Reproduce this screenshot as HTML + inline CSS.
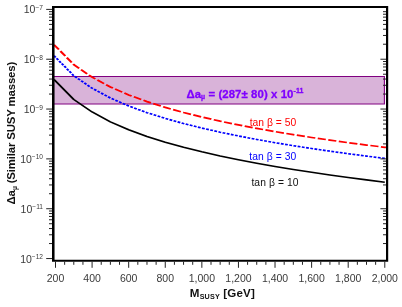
<!DOCTYPE html><html><head><meta charset="utf-8"><style>html,body{margin:0;padding:0;background:#fff}svg{display:block;will-change:transform}text{font-family:"Liberation Sans",sans-serif}</style></head><body>
<svg width="402" height="307" viewBox="0 0 402 307">
<rect width="402" height="307" fill="#fff"/>
<rect x="54" y="76.45" width="330.80" height="27.50" fill="#d9b3d9"/>
<path d="M54,76.45H384.4V103.95H54" fill="none" stroke="#800080" stroke-width="1.1"/>
<g transform="scale(1.32,1)">
<path d="M40.909,79.48 L42.045,81.00 L55.905,99.50 L69.764,111.99 L83.623,121.82 L97.482,129.76 L111.341,136.45 L125.200,142.22 L139.059,147.31 L152.918,151.86 L166.777,155.98 L180.636,159.75 L194.495,163.23 L208.355,166.45 L222.214,169.46 L236.073,172.29 L249.932,174.96 L263.791,177.48 L277.650,179.87 L291.509,182.14" fill="none" stroke="#000" stroke-width="1.55" stroke-linejoin="round"/>
<path d="M40.909,55.71 L42.045,57.23 L55.905,75.73 L69.764,88.22 L83.623,98.04 L97.482,105.99 L111.341,112.67 L125.200,118.44 L139.059,123.53 L152.918,128.08 L166.777,132.21 L180.636,135.97 L194.495,139.45 L208.355,142.68 L222.214,145.69 L236.073,148.52 L249.932,151.18 L263.791,153.70 L277.650,156.09 L291.509,158.37" fill="none" stroke="#0000ff" stroke-width="1.65" stroke-dasharray="2.15 1.1"/>
<path d="M40.909,44.65 L42.045,46.17 L55.905,64.67 L69.764,77.16 L83.623,86.99 L97.482,94.93 L111.341,101.62 L125.200,107.39 L139.059,112.48 L152.918,117.03 L166.777,121.15 L180.636,124.92 L194.495,128.40 L208.355,131.62 L222.214,134.64 L236.073,137.46 L249.932,140.13 L263.791,142.65 L277.650,145.04 L291.509,147.31 L292.424,147.46" fill="none" stroke="#ff0000" stroke-width="1.7" stroke-dasharray="6.2 1.9"/>
</g>
<path d="M46.2,9.40H52.6 M49,44.23H52.6 M383,44.23H386.2 M49,35.46H52.6 M383,35.46H386.2 M49,29.23H52.6 M383,29.23H386.2 M49,24.40H52.6 M383,24.40H386.2 M49,20.45H52.6 M383,20.45H386.2 M49,17.12H52.6 M383,17.12H386.2 M49,14.23H52.6 M383,14.23H386.2 M49,11.68H52.6 M383,11.68H386.2 M46.2,59.23H52.6 M380.4,59.23H386.2 M49,94.06H52.6 M383,94.06H386.2 M49,85.29H52.6 M383,85.29H386.2 M49,79.06H52.6 M383,79.06H386.2 M49,74.23H52.6 M383,74.23H386.2 M49,70.28H52.6 M383,70.28H386.2 M49,66.95H52.6 M383,66.95H386.2 M49,64.06H52.6 M383,64.06H386.2 M49,61.51H52.6 M383,61.51H386.2 M46.2,109.06H52.6 M380.4,109.06H386.2 M49,143.89H52.6 M383,143.89H386.2 M49,135.12H52.6 M383,135.12H386.2 M49,128.89H52.6 M383,128.89H386.2 M49,124.06H52.6 M383,124.06H386.2 M49,120.11H52.6 M383,120.11H386.2 M49,116.78H52.6 M383,116.78H386.2 M49,113.89H52.6 M383,113.89H386.2 M49,111.34H52.6 M383,111.34H386.2 M46.2,158.89H52.6 M380.4,158.89H386.2 M49,193.72H52.6 M383,193.72H386.2 M49,184.95H52.6 M383,184.95H386.2 M49,178.72H52.6 M383,178.72H386.2 M49,173.89H52.6 M383,173.89H386.2 M49,169.94H52.6 M383,169.94H386.2 M49,166.61H52.6 M383,166.61H386.2 M49,163.72H52.6 M383,163.72H386.2 M49,161.17H52.6 M383,161.17H386.2 M46.2,208.72H52.6 M380.4,208.72H386.2 M49,243.55H52.6 M383,243.55H386.2 M49,234.78H52.6 M383,234.78H386.2 M49,228.55H52.6 M383,228.55H386.2 M49,223.72H52.6 M383,223.72H386.2 M49,219.77H52.6 M383,219.77H386.2 M49,216.44H52.6 M383,216.44H386.2 M49,213.55H52.6 M383,213.55H386.2 M49,211.00H52.6 M383,211.00H386.2 M46.2,258.55H52.6 M55.50,261.8V267.8 M64.65,261.8V264.8 M73.79,261.8V264.8 M82.94,261.8V264.8 M92.09,261.8V267.8 M101.23,261.8V264.8 M110.38,261.8V264.8 M119.53,261.8V264.8 M128.68,261.8V267.8 M137.82,261.8V264.8 M146.97,261.8V264.8 M156.12,261.8V264.8 M165.26,261.8V267.8 M174.41,261.8V264.8 M183.56,261.8V264.8 M192.71,261.8V264.8 M201.85,261.8V267.8 M211.00,261.8V264.8 M220.15,261.8V264.8 M229.29,261.8V264.8 M238.44,261.8V267.8 M247.59,261.8V264.8 M256.73,261.8V264.8 M265.88,261.8V264.8 M275.03,261.8V267.8 M284.18,261.8V264.8 M293.32,261.8V264.8 M302.47,261.8V264.8 M311.62,261.8V267.8 M320.76,261.8V264.8 M329.91,261.8V264.8 M339.06,261.8V264.8 M348.20,261.8V267.8 M357.35,261.8V264.8 M366.50,261.8V264.8 M375.64,261.8V264.8 M384.79,261.8V267.8" fill="none" stroke="#222" stroke-width="1"/>
<path d="M52,6H388.2V261.75H52Z M54.55,8V259.75H386V8Z" fill="#000" fill-rule="evenodd"/>
<text x="43" y="13.40" text-anchor="end" font-size="10.5" fill="#3a3a3a">10<tspan font-size="6.6" dy="-3.5">−7</tspan></text>
<text x="43" y="63.23" text-anchor="end" font-size="10.5" fill="#3a3a3a">10<tspan font-size="6.6" dy="-3.5">−8</tspan></text>
<text x="43" y="113.06" text-anchor="end" font-size="10.5" fill="#3a3a3a">10<tspan font-size="6.6" dy="-3.5">−9</tspan></text>
<text x="43" y="162.89" text-anchor="end" font-size="10.5" fill="#3a3a3a">10<tspan font-size="6.6" dy="-3.5">−10</tspan></text>
<text x="43" y="212.72" text-anchor="end" font-size="10.5" fill="#3a3a3a">10<tspan font-size="6.6" dy="-3.5">−11</tspan></text>
<text x="43" y="262.55" text-anchor="end" font-size="10.5" fill="#3a3a3a">10<tspan font-size="6.6" dy="-3.5">−12</tspan></text>
<text x="55.50" y="282" text-anchor="middle" font-size="10.5" fill="#3a3a3a">200</text>
<text x="92.09" y="282" text-anchor="middle" font-size="10.5" fill="#3a3a3a">400</text>
<text x="128.68" y="282" text-anchor="middle" font-size="10.5" fill="#3a3a3a">600</text>
<text x="165.26" y="282" text-anchor="middle" font-size="10.5" fill="#3a3a3a">800</text>
<text x="201.85" y="282" text-anchor="middle" font-size="10.5" fill="#3a3a3a">1,000</text>
<text x="238.44" y="282" text-anchor="middle" font-size="10.5" fill="#3a3a3a">1,200</text>
<text x="275.03" y="282" text-anchor="middle" font-size="10.5" fill="#3a3a3a">1,400</text>
<text x="311.62" y="282" text-anchor="middle" font-size="10.5" fill="#3a3a3a">1,600</text>
<text x="348.20" y="282" text-anchor="middle" font-size="10.5" fill="#3a3a3a">1,800</text>
<text x="384.79" y="282" text-anchor="middle" font-size="10.5" fill="#3a3a3a">2,000</text>
<text x="189.8" y="297" font-size="11.6" font-weight="bold" fill="#111" textLength="65">M<tspan font-size="7.2" dy="1.6">SUSY</tspan><tspan dy="-1.6"> [GeV]</tspan></text>
<text transform="translate(15.3,204.6) rotate(-90)" font-size="11.4" font-weight="bold" fill="#111">Δa<tspan font-size="6.4" dy="1.4">μ</tspan></text>
<text transform="translate(15.3,183.3) rotate(-90)" font-size="11.4" font-weight="bold" fill="#111" textLength="121.6">(Similar SUSY masses)</text>
<text x="186.4" y="97.5" font-size="11.4" font-weight="bold" fill="#7f00ff" stroke="#7f00ff" stroke-width="0.3" textLength="117" lengthAdjust="spacing">Δa<tspan font-size="6.6" dy="1.6">μ</tspan><tspan dy="-1.6"> = (287± 80) x 10</tspan><tspan font-size="7" dy="-4.2">-11</tspan></text>
<text x="249.7" y="125.9" font-size="10.3" fill="#ff0000" textLength="46.6">tan β = 50</text>
<text x="249.3" y="159.5" font-size="10.3" fill="#0000ff" textLength="47">tan β = 30</text>
<text x="251.4" y="186.4" font-size="10.3" fill="#111" textLength="47.2">tan β = 10</text>
</svg></body></html>
